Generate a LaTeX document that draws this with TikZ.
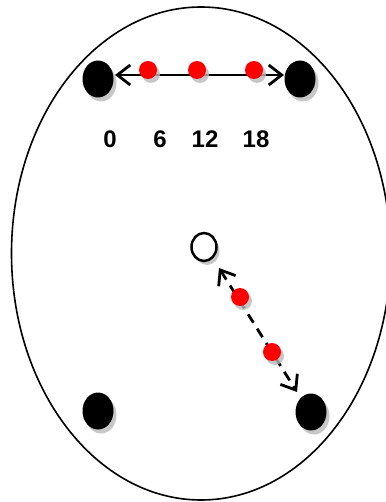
\documentclass[tikz,border=0pt]{standalone}
\usepackage{fontspec}
\setmainfont{Liberation Sans}
\usetikzlibrary{arrows.meta,shadows,shapes.geometric}
\begin{document}
\begin{tikzpicture}[x=1pt,y=-1pt,
  shd/.style={drop shadow={shadow xshift=3pt,shadow yshift=-4pt,fill=gray!55,opacity=0.8}},
  bigdot/.style={ellipse,draw=none,fill=black,minimum width=31pt,minimum height=37pt,inner sep=0pt,shd},
  reddot/.style={circle,fill=red,draw=none,minimum size=18pt,inner sep=0pt,shd},
  hollow/.style={ellipse,draw=black,line width=2.5pt,fill=white,minimum width=25pt,minimum height=28pt,inner sep=0pt,shd},
  lbl/.style={font=\fontsize{24}{28}\selectfont\bfseries},
  tip/.style={Straight Barb[length=13pt,width=20pt,line width=2.8pt]},
  conn/.style={line width=2.8pt,{Straight Barb[length=13pt,width=20pt,line width=2.8pt]}-{Straight Barb[length=13pt,width=20pt,line width=2.8pt]}}
]
\useasboundingbox (0,0) rectangle (385,502);
\node[ellipse,draw=black,line width=1.6pt,minimum width=379pt,minimum height=493pt,inner sep=0pt] (field) at (201,253.5) {};
\node[bigdot] (tl) at (98,79) {};
\node[bigdot] (tr) at (300,79) {};
\node[bigdot] (bl) at (98,411) {};
\node[bigdot] (br) at (311,412) {};
\node[hollow] (c) at (204,247) {};
\coordinate (al) at (115,75);
\coordinate (ar) at (284,75);
\draw[conn] (al) -- (ar);
\coordinate (dl) at (219,268);
\coordinate (dr) at (297,392);
\draw[conn,dash pattern=on 10pt off 7pt] (dl) -- (dr);
\node[reddot] (r1) at (148,70) {};
\node[reddot] (r2) at (197,70) {};
\node[reddot] (r3) at (254,70) {};
\node[reddot] (r4) at (240,297) {};
\node[reddot] (r5) at (272,352) {};
\node[lbl] (l0) at (110,139) {0};
\node[lbl] (l6) at (160,139) {6};
\node[lbl] (l12) at (205,139) {12};
\node[lbl] (l18) at (256,139) {18};
\end{tikzpicture}
\end{document}
